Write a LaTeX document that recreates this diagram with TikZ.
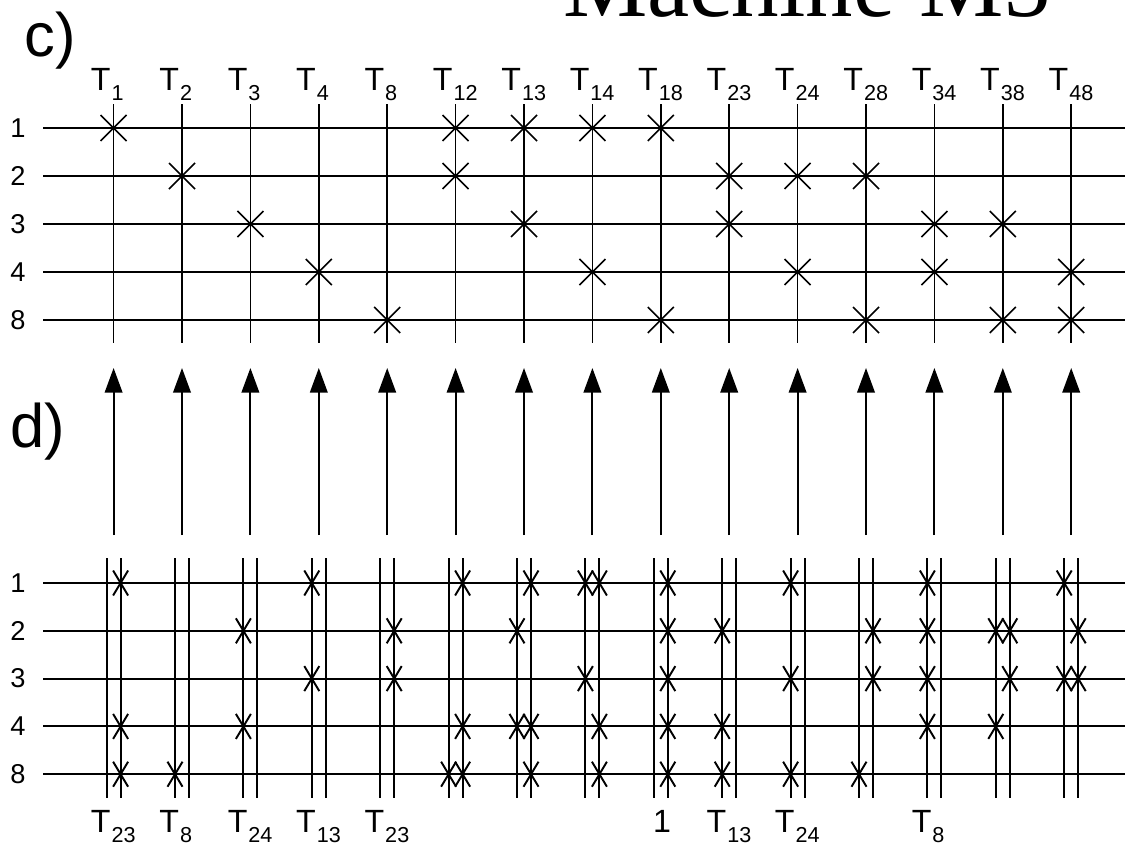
\documentclass[tikz,border=0pt]{standalone}
\usepackage{fontspec}
\setmainfont{Liberation Sans}
\newfontfamily\titlefont{Liberation Serif}
\usetikzlibrary{arrows.meta}

% T with a lowered index
\newcommand{\tsub}[1]{{\fontsize{18.3}{20}\selectfont T}\kern0.6pt\raisebox{-5.7pt}{\fontsize{12.3}{14}\selectfont #1}}

\begin{document}
\begin{tikzpicture}[x=0.02cm, y=-0.02cm, >={Triangle[length=14pt,width=10pt]},
    grid/.style={line width=0.9pt},
    dgrid/.style={line width=1.1pt},
    rowlab/.style={font=\fontsize{15.5}{17}\selectfont, inner sep=0pt},
    tlab/.style={anchor=base west, inner sep=0pt},
    part/.style={font=\fontsize{35}{40}\selectfont, anchor=base west, inner sep=0pt}]

    \clip (0,0) rectangle (1125,845);

    \node[anchor=base west, inner sep=0pt, font=\titlefont\fontsize{54}{60}\selectfont] (title) at (563,16) {Machine M5};
    \node[part] (partc) at (24,56) {c)};
    \node[part] (partd) at (10,447) {d)};

    % rows of both tables
    \foreach \r [count=\k from 0] in {1,2,3,4,8} {
        \node[rowlab] (rc\r) at (18,128+48*\k) {\r};
        \draw[grid] (43,128+48*\k) -- (1125,128+48*\k);
        \node[rowlab] (rd\r) at (18,583+47.8*\k) {\r};
        \draw[dgrid] (43,583+47.8*\k) -- (1125,583+47.8*\k);
    }

    % columns, arrows and double lines
    \foreach \t [count=\i from 0] in {1,2,3,4,8,12,13,14,18,23,24,28,34,38,48} {
        \pgfmathsetmacro\cx{113.6+68.4*\i}
        \node[tlab] (ct\t) at (\cx-23,90) {\tsub{\t}};
        \draw[grid] (\cx,104) -- (\cx,343);
        \coordinate (a\t) at (\cx,535);
        \coordinate (b\t) at (\cx,368);
        \draw[->, line width=1.1pt] (a\t) -- (b\t);
        \draw[dgrid] (\cx-7,558) -- (\cx-7,798) (\cx+7,558) -- (\cx+7,798);
    }

    % crosses of table c)
    \foreach \i/\k in {0/0,1/1,2/2,3/3,4/4,5/0,5/1,6/0,6/2,7/0,7/3,8/0,8/4,
                       9/1,9/2,10/1,10/3,11/1,11/4,12/2,12/3,13/2,13/4,14/3,14/4}
        \draw[grid] (113.6+68.4*\i,128+48*\k) +(-13,-13) -- +(13,13) +(-13,13) -- +(13,-13);

    % crosses of table d)
    \foreach \i/\s/\k in {0/7/0,0/7/3,0/7/4, 1/-7/4, 2/-7/1,2/-7/3, 3/-7/0,3/-7/2,
                          4/7/1,4/7/2, 5/7/0,5/7/3,5/-7/4,5/7/4,
                          6/7/0,6/-7/1,6/-7/3,6/7/3,6/7/4,
                          7/-7/0,7/7/0,7/-7/2,7/7/3,7/7/4,
                          8/7/0,8/7/1,8/7/2,8/7/3,8/7/4,
                          9/-7/1,9/-7/3,9/-7/4, 10/-7/0,10/-7/2,10/-7/4,
                          11/7/1,11/7/2,11/-7/4, 12/-7/0,12/-7/1,12/-7/2,12/-7/3,
                          13/-7/1,13/7/1,13/7/2,13/-7/3, 14/-7/0,14/7/1,14/-7/2,14/7/2}
        \draw[dgrid] (113.6+68.4*\i+\s,583+47.8*\k) +(-7.5,-12.5) -- +(7.5,12.5) +(-7.5,12.5) -- +(7.5,-12.5);

    % labels under table d)
    \foreach \i/\t in {0/23,1/8,2/24,3/13,4/23,9/13,10/24,12/8}
        \node[tlab] (ld\i) at (113.6+68.4*\i-23,832) {\tsub{\t}};
    \node[tlab, font=\fontsize{18.3}{20}\selectfont] (ld8) at (113.6+68.4*8-8,832) {1};
\end{tikzpicture}
\end{document}
